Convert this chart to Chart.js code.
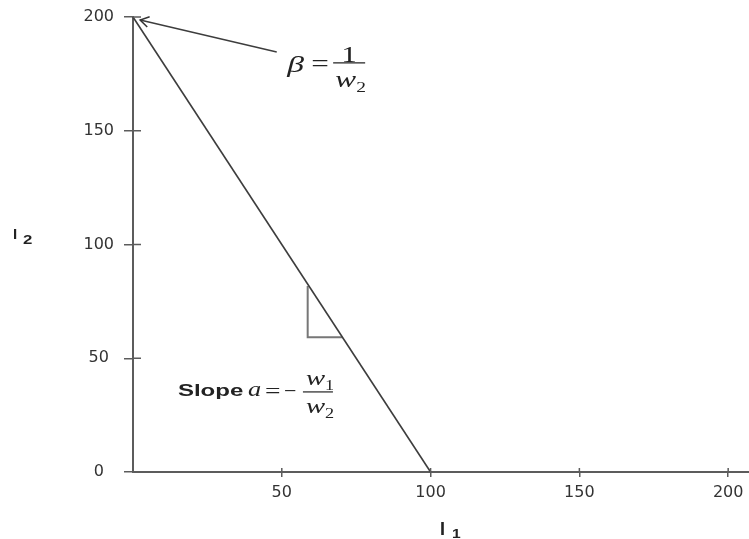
<!DOCTYPE html>
<html>
<head>
<meta charset="utf-8">
<script src="https://cdn.jsdelivr.net/npm/chart.js@4.4.0/dist/chart.umd.min.js"></script>
<style>
  body { margin: 0; background: #fff; }
  #wrap { width: 749px; height: 539px; }
</style>
</head>
<body>
<div id="wrap"><canvas id="budgetChart"></canvas></div>
<script>
// budget line I1 / I2
const lineX = [0, 100];
const lineY = [200, 0];
// small slope triangle under the line
const triX = [58.7, 58.7, 70.3];
const triY = [81.8, 59.2, 59.2];
// arrow pointing at the intercept (tail -> tip)
const arrowX = [48.3, 2.4];
const arrowY = [184.6, 198.7];
// tick labels
const xTicks = [50, 100, 150, 200];
const yTicks = [0, 50, 100, 150, 200];
// where the formulas sit (data units)
const betaAt = { x: 51.8, y: 179.8 };
const slopeAt = { x: 15.1, y: 35.2 };

const AXIS = "#5c5c5c";
const INK = "#222";

function pts(xs, ys) {
  return xs.map((x, i) => ({ x: x, y: ys[i] }));
}

function txt(ctx, s, x, y, font, sx, align) {
  ctx.save();
  ctx.font = font;
  ctx.fillStyle = INK;
  ctx.textAlign = align || "left";
  ctx.textBaseline = "alphabetic";
  ctx.translate(x, y);
  ctx.scale(sx, 1);
  ctx.fillText(s, 0, 0);
  ctx.restore();
}

function hline(ctx, x1, x2, y) {
  ctx.save();
  ctx.strokeStyle = INK;
  ctx.lineWidth = 1.2;
  ctx.beginPath();
  ctx.moveTo(x1, y);
  ctx.lineTo(x2, y);
  ctx.stroke();
  ctx.restore();
}

const SERIF = "'Liberation Serif', 'DejaVu Serif', serif";
const SANS = "'Liberation Sans', Arial, sans-serif";

const extras = {
  id: "extras",
  afterDatasetsDraw(chart) {
    const ctx = chart.ctx;
    const xs = chart.scales.x, ys = chart.scales.y;
    const area = chart.chartArea;

    // inner half of the crossing tick marks
    ctx.save();
    ctx.strokeStyle = AXIS;
    ctx.lineWidth = 1.5;
    ctx.beginPath();
    xs.ticks.forEach(t => {
      const px = xs.getPixelForValue(t.value);
      ctx.moveTo(px, area.bottom);
      ctx.lineTo(px, area.bottom - 4);
    });
    ys.ticks.forEach(t => {
      const py = ys.getPixelForValue(t.value);
      ctx.moveTo(area.left, py);
      ctx.lineTo(area.left + 8, py);
    });
    ctx.stroke();
    ctx.restore();

    // arrow head at the end of the arrow dataset
    const meta = chart.getDatasetMeta(2).data;
    const tip = meta[meta.length - 1], prev = meta[meta.length - 2];
    const ang = Math.atan2(prev.y - tip.y, prev.x - tip.x);
    ctx.save();
    ctx.strokeStyle = "#333";
    ctx.lineWidth = 1.5;
    ctx.beginPath();
    ctx.moveTo(tip.x + 10 * Math.cos(ang - 0.55), tip.y + 10 * Math.sin(ang - 0.55));
    ctx.lineTo(tip.x, tip.y);
    ctx.lineTo(tip.x + 10 * Math.cos(ang + 0.55), tip.y + 10 * Math.sin(ang + 0.55));
    ctx.stroke();
    ctx.restore();

    // beta = 1 / w2
    let X = xs.getPixelForValue(betaAt.x), Y = ys.getPixelForValue(betaAt.y);
    txt(ctx, "β", X, Y + 9, "italic 24px " + SERIF, 1.4);
    txt(ctx, "=", X + 24, Y + 8, "24px " + SERIF, 1.3);
    hline(ctx, X + 46, X + 78, Y);
    txt(ctx, "1", X + 62, Y - 1, "24px " + SERIF, 1.3, "center");
    txt(ctx, "w", X + 48, Y + 24, "italic 24px " + SERIF, 1.3);
    txt(ctx, "2", X + 69, Y + 29, "15px " + SERIF, 1.3);

    // Slope a = - w1 / w2
    X = xs.getPixelForValue(slopeAt.x); Y = ys.getPixelForValue(slopeAt.y);
    txt(ctx, "Slope", X, Y + 4, "bold 16px " + SANS, 1.5);
    txt(ctx, "a", X + 70, Y + 4, "italic 22px " + SERIF, 1.2);
    txt(ctx, "=", X + 87, Y + 6, "22px " + SERIF, 1.25);
    txt(ctx, "−", X + 106, Y + 6, "22px " + SERIF, 1.0);
    hline(ctx, X + 125, X + 155, Y);
    txt(ctx, "w", X + 128, Y - 7, "italic 22px " + SERIF, 1.3);
    txt(ctx, "1", X + 147, Y - 2, "14px " + SERIF, 1.3);
    txt(ctx, "w", X + 128, Y + 21, "italic 22px " + SERIF, 1.3);
    txt(ctx, "2", X + 147, Y + 26, "14px " + SERIF, 1.3);

    // axis titles
    const midY = (area.top + area.bottom) / 2;
    txt(ctx, "I", area.left - 120, midY - 6, "bold 15px " + SANS, 1.0);
    txt(ctx, "2", area.left - 110, midY - 1, "bold 12px " + SANS, 1.4);
    const midX = (area.left + area.right) / 2;
    txt(ctx, "I", midX - 1, chart.height - 4, "bold 18px " + SANS, 1.0);
    txt(ctx, "1", midX + 11, chart.height - 1, "bold 12px " + SANS, 1.3);
  }
};

function drawChart() {
  const ctx = document.getElementById("budgetChart").getContext("2d");
  new Chart(ctx, {
    type: "scatter",
    data: {
      datasets: [
        {
          data: pts(lineX, lineY),
          showLine: true,
          borderColor: "#3d3d3d",
          borderWidth: 1.6,
          pointRadius: 0,
          clip: false
        },
        {
          data: pts(triX, triY),
          showLine: true,
          borderColor: "#777",
          borderWidth: 2,
          pointRadius: 0,
          clip: false
        },
        {
          data: pts(arrowX, arrowY),
          showLine: true,
          borderColor: "#3d3d3d",
          borderWidth: 1.4,
          pointRadius: 0,
          clip: false
        }
      ]
    },
    options: {
      responsive: true,
      maintainAspectRatio: false,
      animation: false,
      events: [],
      layout: { padding: { top: 17, left: 0, right: 0, bottom: 0 } },
      plugins: { legend: { display: false }, tooltip: { enabled: false } },
      scales: {
        x: {
          type: "linear",
          position: "bottom",
          min: 0,
          max: 207,
          afterBuildTicks: s => { s.ticks = xTicks.map(v => ({ value: v })); },
          afterFit: s => { s.height = 67; s.paddingLeft = 0; s.paddingRight = 0; },
          grid: { drawOnChartArea: false, tickLength: 5, color: AXIS, lineWidth: 1.5 },
          border: { color: AXIS, width: 2 },
          ticks: {
            font: { family: "'DejaVu Sans'", size: 16 },
            color: "#333",
            padding: 6,
            maxRotation: 0,
            autoSkip: false
          }
        },
        y: {
          type: "linear",
          min: 0,
          max: 200,
          afterBuildTicks: s => { s.ticks = yTicks.map(v => ({ value: v })); },
          afterFit: s => { s.width = 133; s.paddingTop = 0; s.paddingBottom = 0; },
          grid: { drawOnChartArea: false, tickLength: 9, color: AXIS, lineWidth: 1.5 },
          border: { color: AXIS, width: 2 },
          ticks: {
            font: { family: "'DejaVu Sans'", size: 16 },
            color: "#333",
            padding: 10,
            crossAlign: "center"
          }
        }
      }
    },
    plugins: [extras]
  });
}

document.addEventListener("DOMContentLoaded", drawChart);
</script>
</body>
</html>
